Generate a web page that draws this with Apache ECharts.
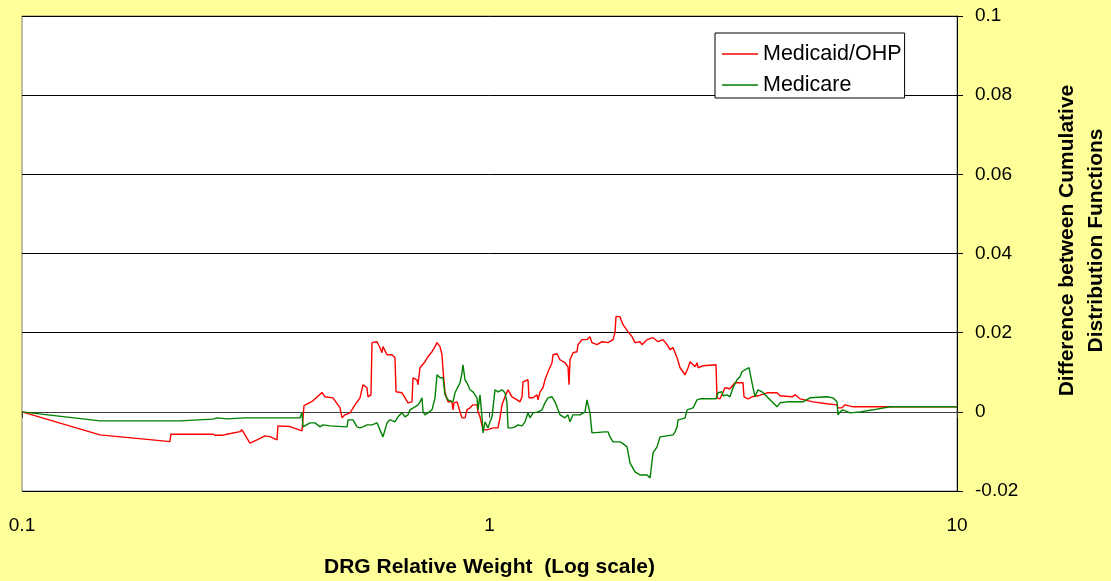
<!DOCTYPE html>
<html>
<head>
    <meta charset="utf-8">
    <title>DRG Relative Weight</title>
    <script src="https://cdn.jsdelivr.net/npm/echarts@6/dist/echarts.min.js"></script>
    <style>
        html, body { margin: 0; padding: 0; background: #FFFF99; }
        #main { width: 1111px; height: 581px; }
    </style>
</head>
<body>
<div id="main"></div>
<script type="text/javascript">
    // [DRG relative weight, difference between cumulative distribution functions]
    var medicaidOhp = [
        [0.1, 0], [0.1468, -0.00582], [0.1973, -0.00727], [0.2072, -0.00752], [0.2082, -0.00565],
        [0.2561, -0.00565], [0.2587, -0.00590], [0.2690, -0.00590], [0.2744, -0.00565], [0.2925, -0.00499],
        [0.2955, -0.00456], [0.3073, -0.00792], [0.3182, -0.00709], [0.3308, -0.00608], [0.3390, -0.00625],
        [0.3511, -0.00709], [0.3528, -0.00354], [0.3743, -0.00372], [0.3971, -0.00481], [0.4011, 0.00159],
        [0.4192, 0.00278], [0.4382, 0.00489], [0.4447, 0.00380], [0.4626, 0.00354], [0.4789, 0.00101],
        [0.4836, -0.00152], [0.4907, -0.00076], [0.5030, -0.00025], [0.5156, 0.00177], [0.5284, 0.00354],
        [0.5363, 0.00684], [0.5469, 0.00608], [0.5496, 0.00380], [0.5578, 0.00430], [0.5606, 0.01747],
        [0.5746, 0.01772], [0.5831, 0.01620], [0.5888, 0.01494], [0.5918, 0.01646], [0.6036, 0.01443],
        [0.6186, 0.01443], [0.6278, 0.01367], [0.6310, 0.00506], [0.6499, 0.00481], [0.6596, 0.00354],
        [0.6694, 0.00228], [0.6826, 0.00253], [0.6860, 0.00861], [0.6997, 0.00810], [0.7032, 0.00684],
        [0.7101, 0.01114], [0.7278, 0.01266], [0.7387, 0.01392], [0.7533, 0.01519], [0.7646, 0.01646],
        [0.7722, 0.01747], [0.7836, 0.01646], [0.7914, 0.01443], [0.7953, 0.01063], [0.8032, 0.00481],
        [0.8151, 0.00253], [0.8313, 0.00253], [0.8354, 0.00051], [0.8396, 0.00228], [0.8521, 0.00253],
        [0.8563, 0.00177], [0.8647, 0], [0.8733, -0.00152], [0.8863, -0.00152], [0.8951, 0.00051],
        [0.9084, 0.00101], [0.9220, 0.00177], [0.9403, 0.00177], [0.9449, 0], [0.9543, -0.00127],
        [0.9685, -0.00456], [0.9878, -0.00456], [1.0174, -0.00405], [1.0428, -0.00405], [1.0531, -0.00152],
        [1.0635, 0.00177], [1.0793, 0.00380], [1.0954, 0.00557], [1.1172, 0.00380], [1.1452, 0.00304],
        [1.1622, 0.00253], [1.1737, 0.00380], [1.1795, 0.00759], [1.2088, 0.00810], [1.2148, 0.00354],
        [1.2390, 0.00354], [1.2636, 0.00430], [1.2698, 0.00304], [1.2824, 0.00506], [1.3015, 0.00608],
        [1.3144, 0.00810], [1.3340, 0.01013], [1.3606, 0.01241], [1.3673, 0.01443], [1.3944, 0.01468],
        [1.4152, 0.01316], [1.4505, 0.01241], [1.4721, 0.01139], [1.4794, 0.00684], [1.4867, 0.01316],
        [1.5087, 0.01494], [1.5387, 0.01519], [1.5463, 0.01696], [1.5771, 0.01823], [1.6164, 0.01823],
        [1.6404, 0.01899], [1.6566, 0.01747], [1.6981, 0.01696], [1.7404, 0.01772], [1.7926, 0.01747],
        [1.8373, 0.01823], [1.8555, 0.02000], [1.8647, 0.02405], [1.9017, 0.02405], [1.9301, 0.02203],
        [1.9782, 0.02025], [2.0175, 0.01899], [2.0475, 0.01747], [2.0985, 0.01772], [2.1193, 0.01696],
        [2.1727, 0.01823], [2.2378, 0.01873], [2.2937, 0.01772], [2.3509, 0.01823], [2.3980, 0.01696],
        [2.4337, 0.01570], [2.4699, 0.01620], [2.5190, 0.01367], [2.5566, 0.01114], [2.6204, 0.00937],
        [2.6594, 0.01114], [2.6858, 0.01266], [2.7528, 0.01139], [2.7800, 0.01241], [2.7938, 0.01114],
        [2.8634, 0.01165], [3.0514, 0.01190], [3.0665, 0.00354], [3.1121, 0.00329], [3.1897, 0.00608],
        [3.2692, 0.00582], [3.3508, 0.00734], [3.4856, 0.00734], [3.5028, 0.00380], [3.5725, 0.00329],
        [3.6436, 0.00380], [3.7530, 0.00405], [3.9232, 0.00481], [4.1213, 0.00481], [4.1827, 0.00405],
        [4.4373, 0.00380], [4.5034, 0.00430], [4.6155, 0.00329], [4.9205, 0.00253], [5.2713, 0.00203],
        [5.5375, 0.00177], [5.5648, 0.00101], [5.6755, 0.00101], [5.7600, 0.00177], [5.9915, 0.00127],
        [10, 0.00127]
    ];

    var medicare = [
        [0.1, 0], [0.1468, -0.00228], [0.2178, -0.00228], [0.2561, -0.00185], [0.2613, -0.00152],
        [0.2744, -0.00177], [0.3000, -0.00152], [0.3933, -0.00152], [0.3971, -0.00025], [0.3991, -0.00380],
        [0.4131, -0.00278], [0.4234, -0.00278], [0.4340, -0.00380], [0.4404, -0.00329], [0.4558, -0.00354],
        [0.4957, -0.00380], [0.4981, -0.00203], [0.5106, -0.00203], [0.5207, -0.00380], [0.5284, -0.00405],
        [0.5363, -0.00380], [0.5469, -0.00329], [0.5606, -0.00329], [0.5746, -0.00278], [0.5831, -0.00456],
        [0.5918, -0.00633], [0.5977, -0.00456], [0.6036, -0.00278], [0.6126, -0.00203], [0.6278, -0.00253],
        [0.6372, -0.00127], [0.6499, -0.00025], [0.6596, -0.00127], [0.6694, -0.00076], [0.6760, 0.00051],
        [0.6928, 0.00127], [0.7032, 0.00177], [0.7101, 0.00253], [0.7172, 0.00354], [0.7207, 0],
        [0.7278, -0.00076], [0.7387, -0.00025], [0.7533, 0.00051], [0.7646, 0.00354], [0.7722, 0.00937],
        [0.7836, 0.00861], [0.7953, 0.00861], [0.8032, 0.00430], [0.8151, 0.00304], [0.8354, 0.00253],
        [0.8437, 0.00481], [0.8563, 0.00633], [0.8647, 0.00734], [0.8733, 0.00987], [0.8776, 0.01190],
        [0.8863, 0.00810], [0.8951, 0.00734], [0.9084, 0.00557], [0.9220, 0.00506], [0.9403, 0.00354],
        [0.9449, 0.00051], [0.9543, 0.00430], [0.9637, -0.00127], [0.9685, -0.00532], [0.9781, -0.00253],
        [0.9926, -0.00405], [1.0025, -0.00253], [1.0124, -0.00127], [1.0275, 0.00557], [1.0428, 0.00506],
        [1.0635, 0.00557], [1.0793, 0.00481], [1.0900, 0.00228], [1.0954, -0.00405], [1.1172, -0.00405],
        [1.1338, -0.00380], [1.1508, -0.00329], [1.1737, -0.00354], [1.1911, -0.00253], [1.2088, -0.00025],
        [1.2208, -0.00152], [1.2390, -0.00025], [1.2698, 0], [1.2951, 0.00051], [1.3144, 0.00228],
        [1.3340, 0.00354], [1.3606, 0.00380], [1.3807, 0.00253], [1.4152, -0.00076], [1.4505, -0.00152],
        [1.4721, -0.00076], [1.4867, -0.00253], [1.5087, -0.00076], [1.5616, -0.00076], [1.6006, 0],
        [1.6164, 0.00304], [1.6404, -0.00025], [1.6566, -0.00532], [1.7663, -0.00506], [1.7926, -0.00506],
        [1.8103, -0.00633], [1.8373, -0.00759], [1.9017, -0.00759], [1.9206, -0.00785], [1.9685, -0.00886],
        [1.9977, -0.01291], [2.0475, -0.01519], [2.0985, -0.01595], [2.1727, -0.01595], [2.2050, -0.01671],
        [2.2268, -0.01646], [2.2378, -0.01038], [2.2824, -0.00886], [2.3164, -0.00633], [2.4699, -0.00582],
        [2.4944, -0.00506], [2.5190, -0.00380], [2.5315, -0.00203], [2.5819, -0.00177], [2.6204, -0.00152],
        [2.6464, 0.00051], [2.7258, 0.00101], [2.7800, 0.00304], [2.8214, 0.00329], [3.0514, 0.00329],
        [3.0816, 0.00481], [3.1429, 0.00506], [3.1584, 0.00405], [3.2213, 0.00430], [3.2692, 0.00380],
        [3.3180, 0.00608], [3.3840, 0.00810], [3.4344, 0.00886], [3.4684, 0.01013], [3.4856, 0.00987],
        [3.5200, 0.01063], [3.5901, 0.01114], [3.6436, 0.00734], [3.6979, 0.00380], [3.7530, 0.00557],
        [3.8278, 0.00506], [3.9232, 0.00380], [4.1213, 0.00127], [4.1827, 0.00228], [4.3294, 0.00253],
        [4.6842, 0.00253], [4.8485, 0.00354], [5.2713, 0.00380], [5.4294, 0.00354], [5.5375, 0.00253],
        [5.5648, -0.00076], [5.6199, 0], [5.7035, 0.00051], [5.9036, -0.00025], [6.2018, 0],
        [6.6115, 0.00051], [7.1893, 0.00127], [10, 0.00127]
    ];

    var seriesNames = ['Medicaid/OHP', 'Medicare'];
    var seriesColors = ['#FF0000', '#008000'];

    var myChart = echarts.init(document.getElementById('main'));
    var font = 'Liberation Sans, Arial, sans-serif';

    var option = {
        backgroundColor: '#FFFF99',
        animation: false,
        textStyle: { fontFamily: font, color: '#000' },
        grid: {
            left: 22, right: 154, top: 16, bottom: 90,
            containLabel: false,
            outerBoundsMode: 'none',
            show: true, backgroundColor: '#FFFFFF', borderColor: '#808080', borderWidth: 1
        },
        legend: {
            data: seriesNames,
            orient: 'vertical',
            left: 715, top: 33,
            padding: [10, 3, 2, 7],
            itemGap: 9,
            itemWidth: 36, itemHeight: 1.5,
            icon: 'rect',
            backgroundColor: '#FFFFFF',
            borderColor: '#000000', borderWidth: 1, borderRadius: 0,
            textStyle: { fontFamily: font, fontSize: 21.5, color: '#000' }
        },
        xAxis: {
            type: 'log',
            logBase: 10,
            min: 0.1, max: 10,
            name: 'DRG Relative Weight  (Log scale)',
            nameLocation: 'middle',
            nameGap: 66,
            nameTextStyle: { fontFamily: font, fontSize: 21, fontWeight: 'bold', color: '#000' },
            axisLine: { lineStyle: { color: '#404040', width: 1 } },
            axisTick: { show: true, length: 6, lineStyle: { color: '#404040' } },
            axisLabel: { fontSize: 19, color: '#000', margin: 25 },
            splitLine: { show: false },
            minorTick: { show: false }
        },
        yAxis: {
            type: 'value',
            position: 'right',
            min: -0.02, max: 0.1, interval: 0.02,
            name: 'Difference between Cumulative\nDistribution Functions',
            nameLocation: 'middle',
            nameRotate: 90,
            nameGap: 96,
            nameTextStyle: {
                fontFamily: font, fontSize: 21, fontWeight: 'bold', color: '#000',
                lineHeight: 29, padding: [0, 0, 0, 26]
            },
            axisLine: { show: true, lineStyle: { color: '#000', width: 1 } },
            axisTick: { show: true, length: 6, lineStyle: { color: '#000' } },
            axisLabel: { fontSize: 19, color: '#000', margin: 18 },
            splitLine: { show: true, lineStyle: { color: '#000', width: 1 } }
        },
        series: [
            {
                name: seriesNames[0], type: 'line', data: medicaidOhp,
                showSymbol: false, symbol: 'none',
                lineStyle: { color: seriesColors[0], width: 1.4 },
                itemStyle: { color: seriesColors[0] }
            },
            {
                name: seriesNames[1], type: 'line', data: medicare,
                showSymbol: false, symbol: 'none',
                lineStyle: { color: seriesColors[1], width: 1.4 },
                itemStyle: { color: seriesColors[1] }
            }
        ]
    };

    myChart.setOption(option);
</script>
</body>
</html>
